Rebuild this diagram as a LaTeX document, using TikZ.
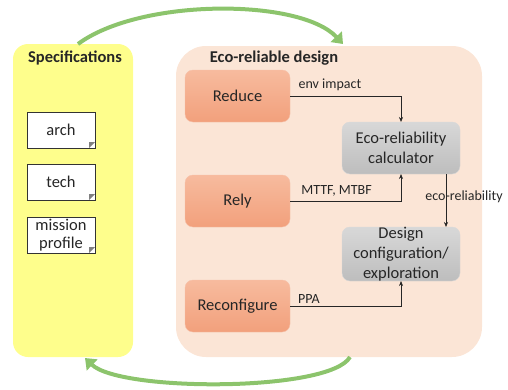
\documentclass[tikz,border=0pt]{standalone}
\usepackage{fontspec}
\setmainfont{Carlito}
\usetikzlibrary{positioning,arrows.meta}
\definecolor{specyellow}{RGB}{254,254,140}
\definecolor{ecopeach}{RGB}{251,229,214}
\definecolor{boxtop}{RGB}{247,187,158}
\definecolor{boxbot}{RGB}{242,160,124}
\definecolor{boxedge}{RGB}{247,192,168}
\definecolor{greytop}{RGB}{216,216,216}
\definecolor{greybot}{RGB}{189,189,189}
\definecolor{loopgreen}{RGB}{140,196,108}
\begin{document}
\begin{tikzpicture}[x=1pt,y=1pt,node distance=53pt,>={Stealth[length=5pt,width=4pt]},
  every node/.style={outer sep=0pt,text=black!85},
  panel/.style={rectangle,inner sep=0pt},
  title/.style={font=\fontsize{16.5}{20}\selectfont\bfseries},
  process/.style={rectangle,rounded corners=8pt,draw=boxedge,top color=boxtop,bottom color=boxbot,
    minimum width=105pt,minimum height=52pt,inner sep=0pt,font=\fontsize{16.5}{20}\selectfont},
  engine/.style={rectangle,rounded corners=8pt,draw=greytop,top color=greytop,bottom color=greybot,
    minimum width=118pt,minimum height=52pt,inner sep=0pt,align=center,font=\fontsize{16.5}{20}\selectfont},
  doc/.style={rectangle,draw=black!80,fill=white,minimum width=68pt,minimum height=36pt,inner sep=0pt,
    align=center,font=\fontsize{16.5}{20}\selectfont,
    path picture={\fill[gray] ([xshift=-6pt]path picture bounding box.south east) --
      ([yshift=6pt]path picture bounding box.south east) --
      ([xshift=-6pt,yshift=6pt]path picture bounding box.south east) -- cycle;}},
  lbl/.style={font=\fontsize{14}{16}\selectfont,inner sep=2pt},
  flow/.style={->,black!85,line width=0.6pt},
  loop/.style={line width=4pt,loopgreen,-{Triangle[width=15pt,length=10pt]}}]
  \useasboundingbox (0,0) rectangle (508,-389);

  % Panels
  \node[panel,fill=specyellow,rounded corners=15pt,minimum width=120pt,minimum height=313pt] (spec) at (73,-200.5) {};
  \node[panel,fill=ecopeach,rounded corners=30pt,minimum width=306pt,minimum height=311pt] (eco) at (329,-201.5) {};
  \node[title] (spectitle) at (75,-58) {Specifications};
  \node[title] (ecotitle) at (274,-58) {Eco-reliable design};

  % Specification documents
  \node[doc] (arch) at (61,-130) {arch};
  \node[doc,below=16pt of arch] (tech) {tech};
  \node[doc,below=17pt of tech,font=\fontsize{16.5}{18}\selectfont] (mission) {mission\\profile};

  % Design steps
  \node[process] (reduce) at (237.5,-96) {Reduce};
  \node[process,below=of reduce] (rely) {Rely};
  \node[process,below=of rely] (reconf) {Reconfigure};
  \node[engine,below right=0pt and 52pt of reduce] (calc) {Eco-reliability\\calculator};
  \node[engine,below=of calc] (design) {Design\\configuration/\\exploration};

  % Edges
  \draw[flow] (reduce.east) -| node[lbl,pos=0.18,above,yshift=3pt] {env impact} (calc.north);
  \draw[flow] (rely.east) -| node[lbl,pos=0.21,above,yshift=3pt] {MTTF, MTBF} (calc.south);
  \draw[flow] (reconf.east) -| node[lbl,pos=0.085,above,yshift=1pt] {PPA} (design.south);
  \draw[flow] ([xshift=45pt]calc.south) -- node[lbl,xshift=18pt,yshift=4pt] {eco-reliability} ([xshift=45pt]design.north);

  % Loop arrows
  \draw[loop] ([xshift=5pt]spec.north) .. controls (140,2) and (300,2) .. ([xshift=14pt,yshift=2pt]eco.north);
  \draw[loop] ([xshift=21pt]eco.south) .. controls (330,-392) and (120,-392) .. ([xshift=12pt,yshift=-1pt]spec.south);
\end{tikzpicture}
\end{document}
